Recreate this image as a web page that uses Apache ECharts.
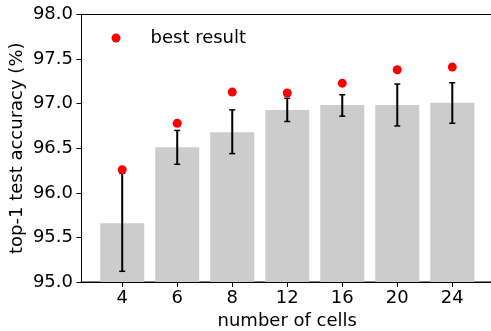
<!DOCTYPE html>
<html>
<head>
<meta charset="utf-8">
<script src="https://cdn.jsdelivr.net/npm/echarts@6/dist/echarts.min.js"></script>
<style>html,body{margin:0;padding:0;background:#fff}#c{width:491px;height:331px}</style>
</head>
<body>
<div id="c"></div>
<script>
const categories = ['4', '6', '8', '12', '16', '20', '24'];
const meanAcc = [95.66, 96.51, 96.68, 96.93, 96.985, 96.985, 97.01];
const errLow = [95.12, 96.32, 96.44, 96.80, 96.86, 96.75, 96.78];
const errHigh = [96.22, 96.70, 96.93, 97.06, 97.10, 97.22, 97.235];
const bestAcc = [96.26, 96.78, 97.13, 97.12, 97.23, 97.38, 97.41];
const yTicks = [95.0, 95.5, 96.0, 96.5, 97.0, 97.5, 98.0];

const idx = categories.map((_, i) => i);
const font = 'DejaVu Sans';
const fs = 18;
const chart = echarts.init(document.getElementById('c'), null, {renderer: 'canvas'});
chart.setOption({
  animation: false,
  backgroundColor: '#fff',
  grid: {left: 81.5, top: 14.5, width: 411.5, height: 267.5, show: true, borderColor: '#000', borderWidth: 1,
    backgroundColor: 'transparent', containLabel: false, outerBoundsMode: 'none'},
  legend: {
    data: ['best result'], left: 111.5, top: 29, padding: 0,
    itemWidth: 9, itemHeight: 9, icon: 'circle',
    textStyle: {fontFamily: font, fontSize: fs, color: '#000', padding: [0, 0, 0, 25]}
  },
  xAxis: {
    type: 'value', min: -0.74, max: 6.74,
    name: 'number of cells', nameLocation: 'middle', nameGap: 30, nameMoveOverlap: false,
    nameTextStyle: {fontFamily: font, fontSize: fs, color: '#000'},
    axisLine: {show: true, onZero: false, lineStyle: {color: '#000', width: 1}},
    axisTick: {show: true, length: 5, lineStyle: {color: '#000'}, customValues: idx},
    axisLabel: {fontFamily: font, fontSize: fs, color: '#000', margin: 7, customValues: idx,
      formatter: v => categories[Math.round(v)]},
    splitLine: {show: false}
  },
  yAxis: {
    type: 'value', min: 95, max: 98, interval: 0.5,
    name: 'top-1 test accuracy (%)', nameLocation: 'middle', nameGap: 55, nameMoveOverlap: false,
    nameTextStyle: {fontFamily: font, fontSize: fs, color: '#000'},
    axisLine: {show: true, onZero: false, lineStyle: {color: '#000', width: 1}},
    axisTick: {show: true, length: 5, lineStyle: {color: '#000'}},
    axisLabel: {fontFamily: font, fontSize: fs, color: '#000', margin: 8.5,
      customValues: yTicks, formatter: v => v.toFixed(1)},
    splitLine: {show: false}
  },
  series: [
    {
      type: 'bar', name: 'mean', barWidth: 44,
      itemStyle: {color: '#cccccc'},
      data: idx.map(i => [i, meanAcc[i]]), z: 1
    },
    {
      type: 'custom', name: 'err', z: 2,
      data: idx.map(i => [i, errLow[i], errHigh[i]]),
      encode: {x: 0, y: [1, 2]},
      renderItem: function (params, api) {
        const lo = api.coord([api.value(0), api.value(1)]);
        const hi = api.coord([api.value(0), api.value(2)]);
        const cw = 3;
        return {type: 'group', children: [
          {type: 'line', shape: {x1: lo[0], y1: lo[1], x2: hi[0], y2: hi[1]}, style: {stroke: '#000', lineWidth: 2}},
          {type: 'line', shape: {x1: lo[0] - cw, y1: lo[1], x2: lo[0] + cw, y2: lo[1]}, style: {stroke: '#000', lineWidth: 1.5}},
          {type: 'line', shape: {x1: hi[0] - cw, y1: hi[1], x2: hi[0] + cw, y2: hi[1]}, style: {stroke: '#000', lineWidth: 1.5}}
        ]};
      }
    },
    {
      type: 'scatter', name: 'best result', symbol: 'circle', symbolSize: 9, z: 3,
      itemStyle: {color: '#ff0000', opacity: 1},
      data: idx.map(i => [i, bestAcc[i]])
    }
  ]
});
</script>
</body>
</html>
